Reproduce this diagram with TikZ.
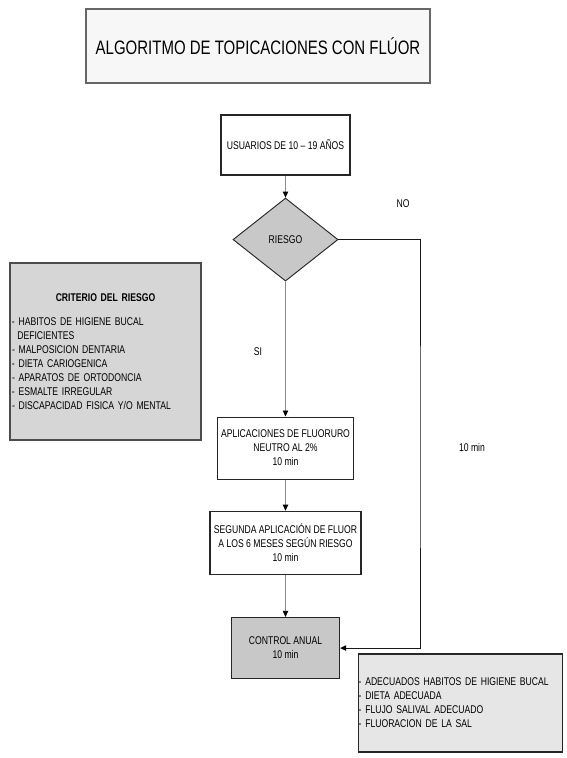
\documentclass[tikz,border=0pt]{standalone}
\usepackage{fontspec}
\setmainfont{Liberation Sans}[FakeStretch=0.77]
\usepackage{xcolor}
\usepackage{tikz}
\usetikzlibrary{arrows.meta,positioning,shapes.geometric}

\definecolor{fillgris}{HTML}{C8C8C8}
\definecolor{notagris}{HTML}{D6D6D6}
\definecolor{notaclara}{HTML}{E6E6E6}

\begin{document}
\begin{tikzpicture}[
    x=0.75pt, y=-0.75pt,
    font=\fontsize{8.4}{10.5}\selectfont,
    block/.style={draw=black!85, line width=0.9pt, fill=white, align=center, inner sep=1pt},
    decision/.style={diamond, draw=black!85, line width=0.7pt, fill=fillgris, inner sep=0pt,
      minimum width=78.75pt, minimum height=62.25pt},
    note/.style={draw=black!70, line width=0.9pt, inner sep=1.5pt},
    arrow/.style={-{Triangle[length=4.5pt,width=4pt,color=black]}, draw=black!45, line width=0.6pt},
    label/.style={inner sep=0pt}
  ]
    \useasboundingbox (0,0) rectangle (567,758);
    % encabezado
    \node[block, draw=black!60, fill=black!3, minimum width=258pt, minimum height=55.5pt,
      font=\fontsize{14.6}{17}\selectfont] (titulo) at (258,46) {ALGORITMO DE TOPICACIONES CON FLÚOR};
    % columna principal
    \node[block, minimum width=96.75pt, minimum height=45pt] (usuarios) at (285.5,145) {USUARIOS DE 10 -- 19 AÑOS};
    \node[decision, below=16.5pt of usuarios] (riesgo) {RIESGO};
    \node[block, minimum width=102pt, minimum height=46.5pt, below=101.25pt of riesgo] (aplicacion)
      {APLICACIONES DE FLUORURO\\NEUTRO AL 2\%\\10 min};
    \node[block, minimum width=113.25pt, minimum height=47.25pt, below=23.25pt of aplicacion] (segunda)
      {SEGUNDA APLICACIÓN DE FLUOR\\A LOS 6 MESES SEGÚN RIESGO\\10 min};
    \node[block, fill=fillgris, minimum width=81pt, minimum height=45.75pt, below=31.5pt of segunda] (control)
      {CONTROL ANUAL\\10 min};
    % notas laterales
    \node[note, fill=notagris, text width=140.25pt, minimum height=132.75pt] (criterio) at (105.5,351.5)
      {{\centering\bfseries CRITERIO DEL RIESGO\par}\vspace{8pt}\raggedright
       - HABITOS DE HIGIENE BUCAL\\\hspace*{4pt}DEFICIENTES\\- MALPOSICION DENTARIA\\- DIETA CARIOGENICA\\
       - APARATOS DE ORTODONCIA\\- ESMALTE IRREGULAR\\- DISCAPACIDAD FISICA Y/O MENTAL\par};
    \node[note, draw=black!85, fill=notaclara, text width=152.75pt, minimum height=73.5pt, align=left,
      inner sep=0pt] (medidas) at (460.5,703)
      {- ADECUADOS HABITOS DE HIGIENE BUCAL\\- DIETA ADECUADA\\- FLUJO SALIVAL ADECUADO\\- FLUORACION DE LA SAL};
    % etiquetas
    \node[label] (no) at (403,204) {NO};
    \node[label] (si) at (258,352) {SI};
    \node[label] (tiempo) at (472,447) {10 min};
    \coordinate (carril) at (420,450);
    % conectores
    \draw[arrow] (usuarios) -- (riesgo);
    \draw[arrow] (riesgo) -- (aplicacion);
    \draw[arrow] (aplicacion) -- (segunda);
    \draw[arrow] (segunda) -- (control);
    \draw[arrow, draw=black!90, line width=0.75pt] (riesgo.east) -| (carril) |- (control.east);
\end{tikzpicture}
\end{document}
